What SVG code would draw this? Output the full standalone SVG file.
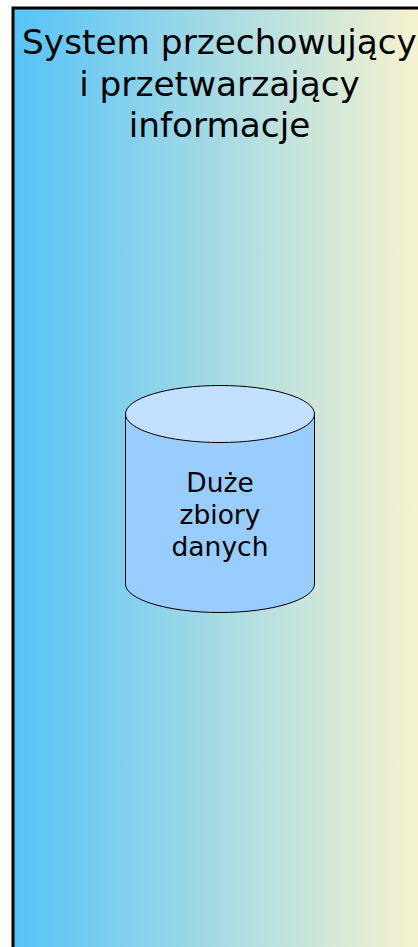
<svg xmlns="http://www.w3.org/2000/svg" width="418" height="947" viewBox="0 0 418 947">
<defs>
<linearGradient id="bg" gradientUnits="userSpaceOnUse" x1="13" y1="0" x2="418" y2="0"><stop offset="0" stop-color="#55c3f9"/><stop offset="1" stop-color="#f6f2cf"/></linearGradient>
</defs>
<style>
text{font-family:"DejaVu Sans",sans-serif;fill:#000;text-anchor:middle}
.t{font-size:34.3px}
.l{font-size:26.5px}
.c{stroke:#000;stroke-width:1}
</style>
<rect width="418" height="947" fill="#fff"/>
<g id="system">
<rect x="13" y="8" width="420" height="960" fill="url(#bg)" stroke="#000" stroke-width="3"/>
<text class="t" x="219.500" y="54">System przechowujący</text>
<text class="t" x="219.500" y="96">i przetwarzający</text>
<text class="t" x="219.500" y="137">informacje</text>
</g>
<g id="database">
<path class="c" fill="#99ccff" d="M125.500 414V584C125.500 599.500 167.800 612.500 220 612.500S314.500 599.500 314.500 584V414Z"/>
<ellipse class="c" cx="220" cy="414" rx="94.500" ry="28.500" fill="#c2e0ff"/>
<text class="l" x="220" y="492">Duże</text>
<text class="l" x="220" y="524">zbiory</text>
<text class="l" x="220" y="556">danych</text>
</g>
<g id="connectors"/>
</svg>
